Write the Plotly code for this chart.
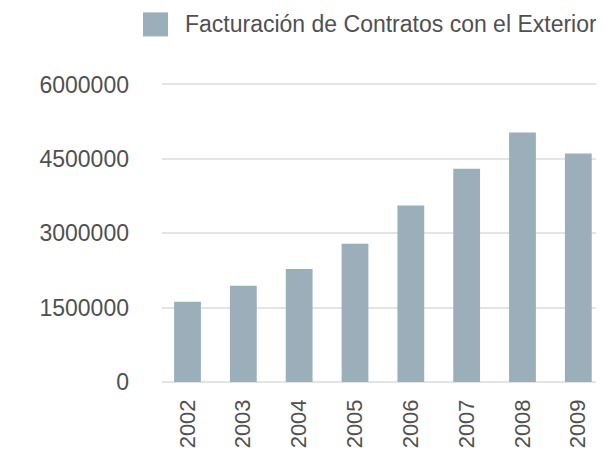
"""
Facturación de Contratos con el Exterior, 2002-2009 (barras)
"""
import plotly.graph_objects as go

# Datos
anios = ['2002', '2003', '2004', '2005', '2006', '2007', '2008', '2009']
facturacion = [1620000, 1940000, 2280000, 2790000, 3560000, 4300000, 5030000, 4610000]
y_ticks = [0, 1500000, 3000000, 4500000, 6000000]
serie = "Facturación de Contratos con el Exterior"

COLOR_BARRA = '#9aafba'
COLOR_TEXTO = '#505050'
FUENTE = 'Liberation Sans, Arial, Helvetica, sans-serif'

fig = go.Figure(data=[go.Bar(
    x=anios,
    y=facturacion,
    name=serie,
    width=0.48,
    marker=dict(color=COLOR_BARRA, line=dict(width=0)),
    hovertemplate="%{x}<br>%{y:,.0f}<extra></extra>"
)])

# Leyenda dibujada a mano (cuadro grande como en el original)
fig.add_shape(type='rect', xref='paper', yref='paper',
              x0=-0.043, x1=0.0136, y0=1.152, y1=1.232,
              fillcolor=COLOR_BARRA, line=dict(width=0))
fig.add_annotation(text=serie, xref='paper', yref='paper',
                   x=0.0475, y=1.192, xanchor='left', yanchor='middle',
                   showarrow=False,
                   font=dict(family=FUENTE, size=23, color=COLOR_TEXTO))

# la página añade 8px de margen al body: se compensa en los márgenes
fig.update_layout(
    width=604,
    height=452,
    margin=dict(l=154, r=8, t=74, b=78),
    paper_bgcolor='white',
    plot_bgcolor='white',
    showlegend=False,
    bargap=0.5,
    font=dict(family=FUENTE, size=22, color=COLOR_TEXTO),
    xaxis=dict(
        type='category',
        range=[-0.457, 7.46],
        tickangle=-90,
        showgrid=False,
        showline=False,
        ticks='',
        automargin=False,
        ticklabelstandoff=12,
        tickfont=dict(size=22, color=COLOR_TEXTO),
    ),
    yaxis=dict(
        range=[0, 6050000],
        tickvals=y_ticks,
        ticktext=[str(v) for v in y_ticks],
        showgrid=True,
        gridcolor='#e4e4e4',
        gridwidth=1.5,
        zeroline=True,
        zerolinecolor='#e4e4e4',
        zerolinewidth=1.5,
        showline=False,
        ticks='',
        automargin=False,
        ticklabelstandoff=32,
        tickfont=dict(size=23, color=COLOR_TEXTO),
    ),
)

fig.write_html("out.html")
